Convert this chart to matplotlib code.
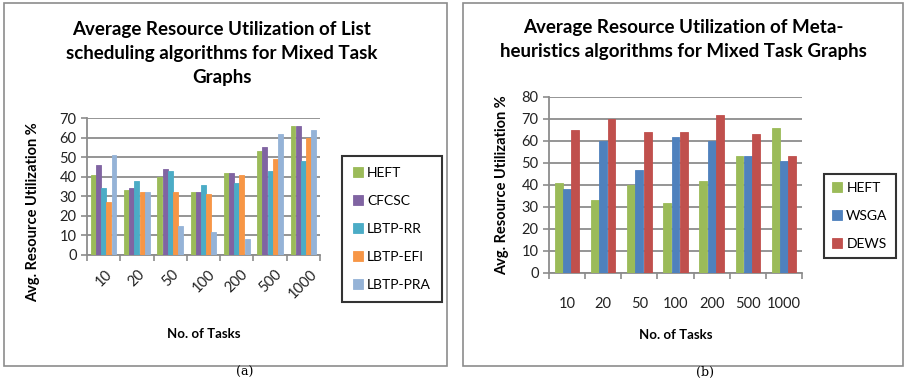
import numpy as np
import matplotlib
matplotlib.use('Agg')
import matplotlib.pyplot as plt
from matplotlib.patches import Rectangle

plt.rcParams['font.family'] = ['Lato', 'DejaVu Sans']

# 数据
tasks = ['10', '20', '50', '100', '200', '500', '1000']

list_names = ['HEFT', 'CFCSC', 'LBTP-RR', 'LBTP-EFI', 'LBTP-PRA']
heft_a = [41, 33, 40, 32, 42, 53, 66]
cfcsc = [46, 34, 44, 32, 42, 55, 66]
lbtp_rr = [34, 38, 43, 36, 37, 43, 48]
lbtp_efi = [27, 32, 32, 31, 41, 49, 60]
lbtp_pra = [51, 32, 15, 12, 8, 62, 64]

meta_names = ['HEFT', 'WSGA', 'DEWS']
heft_b = [41, 33, 40, 32, 42, 53, 66]
wsga = [38, 60, 47, 62, 60, 53, 51]
dews = [65, 70, 64, 64, 72, 63, 53]

list_colors = ['#9BBB59', '#8064A2', '#4BACC6', '#F79646', '#95B3D7']
meta_colors = ['#9BBB59', '#4F81BD', '#C0504D']

W, H = 919, 380
fig = plt.figure(figsize=(W / 100, H / 100), dpi=100)


def px_axes(x0, y0, x1, y1):
    # 像素坐标 -> 图形坐标
    return fig.add_axes([x0 / W, 1 - y1 / H, (x1 - x0) / W, (y1 - y0) / H])


def frame(x0, y0, x1, y1):
    fig.patches.append(Rectangle((x0 / W, 1 - y1 / H), (x1 - x0) / W, (y1 - y0) / H,
                                 transform=fig.transFigure, fill=False,
                                 edgecolor='#8c8c8c', linewidth=1.2))


def draw_bars(ax, series, names, colors, bw, ymax):
    x = np.arange(len(tasks))
    n = len(series)
    for i, (vals, name, c) in enumerate(zip(series, names, colors)):
        off = (i - (n - 1) / 2) * bw
        ax.bar(x + off, vals, width=bw * 0.95, color=c, edgecolor=c,
               linewidth=0.6, label=name, zorder=3)
    ax.set_xlim(-0.5, len(tasks) - 0.5)
    ax.set_ylim(0, ymax)
    ax.set_yticks(np.arange(0, ymax + 1, 10))
    ax.yaxis.grid(True, color='#8c8c8c', linewidth=1.3)
    ax.set_axisbelow(True)
    ax.set_xticks(x)
    ax.set_xticks(np.arange(-0.5, len(tasks)), minor=True)
    ax.tick_params(axis='x', which='major', length=0)
    ax.tick_params(axis='x', which='minor', length=4, color='#8c8c8c', width=1.2)
    ax.tick_params(axis='y', length=4, color='#8c8c8c', width=1.2, labelsize=10.5,
                   labelcolor='#222222')
    for s in ['top', 'right']:
        ax.spines[s].set_visible(False)
    for s in ['left', 'bottom']:
        ax.spines[s].set_color('#8c8c8c')
        ax.spines[s].set_linewidth(1.3)


def make_legend(ax, center, pad):
    h, l = ax.get_legend_handles_labels()
    leg = fig.legend(h, l, loc='center', bbox_to_anchor=(center[0] / W, 1 - center[1] / H),
                     fontsize=10, frameon=True, fancybox=False, labelspacing=1.15,
                     handlelength=0.7, handleheight=0.7, handletextpad=0.3,
                     borderpad=pad, borderaxespad=0)
    leg.get_frame().set_edgecolor('black')
    leg.get_frame().set_linewidth(1.5)


# (a) 列表调度算法
frame(4, 3, 447, 366)
ax1 = px_axes(87, 118, 320, 255)
draw_bars(ax1, [heft_a, cfcsc, lbtp_rr, lbtp_efi, lbtp_pra], list_names, list_colors, 0.155, 70)
ax1.set_xticklabels(tasks, rotation=45, fontsize=10.5, ha='center', color='#222222')
ax1.tick_params(axis='x', which='major', pad=9)
ax1.set_xlabel('No. of Tasks', fontsize=9.5, fontweight='bold', labelpad=19)
ax1.set_ylabel('Avg. Resource Utilization %', fontsize=10.5, fontweight='bold')
ax1.yaxis.set_label_coords(-0.2, 0.31)
fig.text(222 / W, 1 - 54 / H,
         'Average Resource Utilization of List\nscheduling algorithms for Mixed Task\nGraphs',
         ha='center', va='center', fontsize=13.5, fontweight='bold', linespacing=1.5)
make_legend(ax1, (392, 229), 0.8)

# (b) 元启发式算法
frame(463, 3, 903, 366)
ax2 = px_axes(549, 97, 802, 273)
draw_bars(ax2, [heft_b, wsga, dews], meta_names, meta_colors, 0.23, 80)
ax2.set_xticklabels(tasks, rotation=0, fontsize=10.5, color='#222222')
ax2.tick_params(axis='x', which='major', pad=17)
ax2.set_xlabel('No. of Tasks', fontsize=9.5, fontweight='bold', labelpad=13)
ax2.set_ylabel('Avg. Resource Utilization %', fontsize=10.5, fontweight='bold', labelpad=9)
fig.text(683 / W, 1 - 40 / H,
         'Average Resource Utilization of Meta-\nheuristics algorithms for Mixed Task Graphs',
         ha='center', va='center', fontsize=13.5, fontweight='bold', linespacing=1.5)
make_legend(ax2, (860, 216), 0.6)

# 子图标注
fig.text(245 / W, 1 - 379 / H, '(a)', ha='center', va='bottom', fontsize=9, family='DejaVu Serif')
fig.text(705 / W, 1 - 379 / H, '(b)', ha='center', va='bottom', fontsize=9, family='DejaVu Serif')

fig.savefig('out.png', dpi=100)
